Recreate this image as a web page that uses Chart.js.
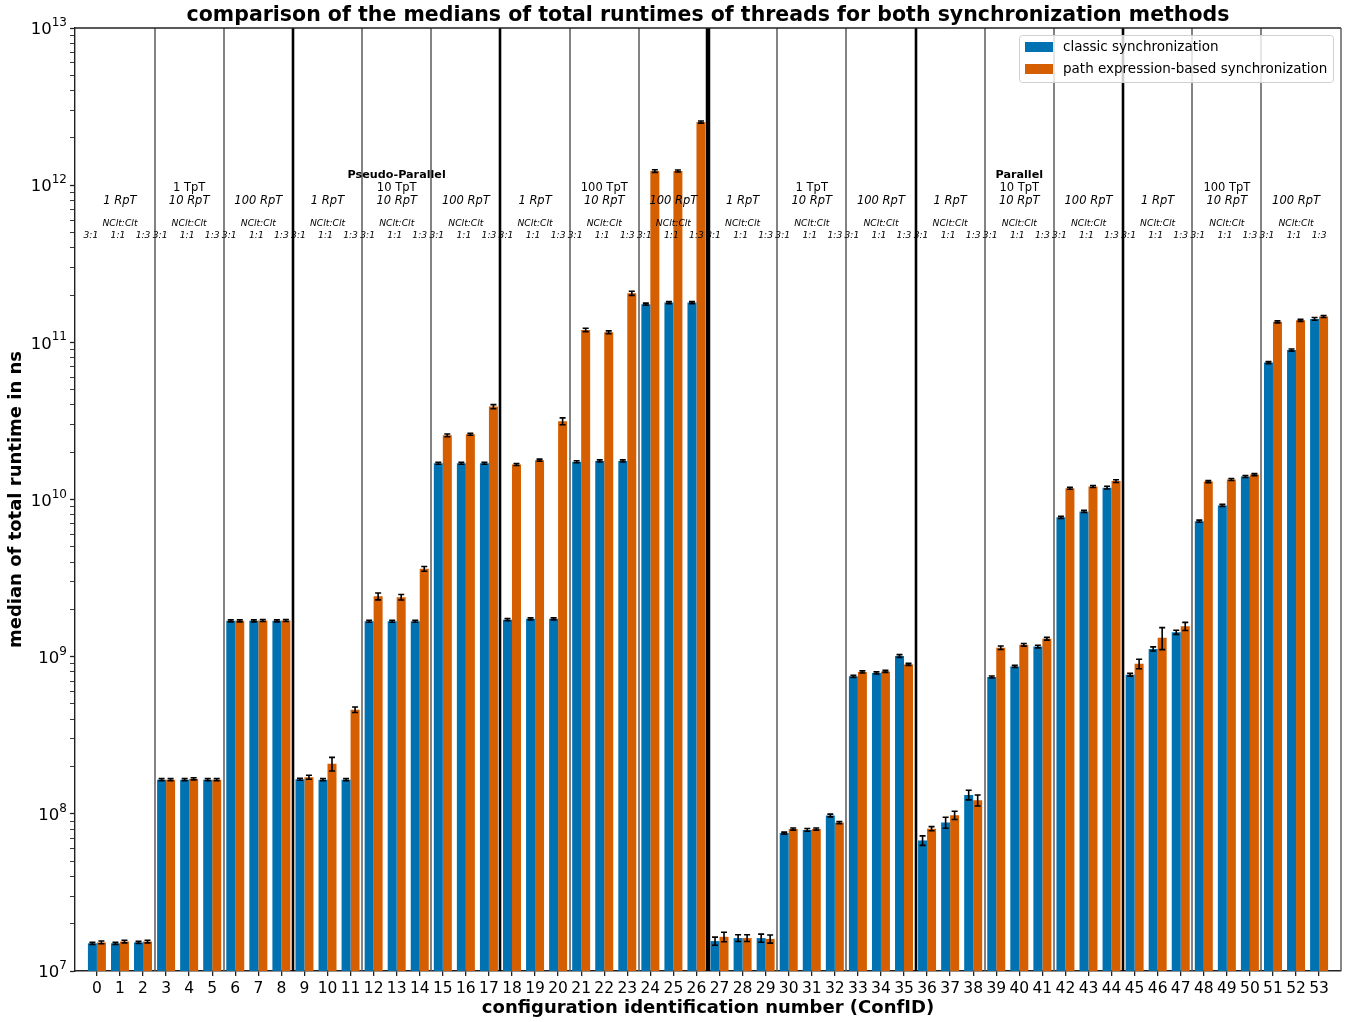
<!DOCTYPE html>
<html>
<head>
<meta charset="utf-8">
<script src="https://cdn.jsdelivr.net/npm/chart.js@4.4.0/dist/chart.umd.min.js"></script>
<style>
  html, body { margin: 0; padding: 0; background: #fff; }
  #wrap { width: 1351px; height: 1022px; }
</style>
</head>
<body>
<div id="wrap"><canvas id="chart"></canvas></div>
<script>
// configuration ids 0..53
const confIds = Array.from({ length: 54 }, (_, i) => i);

// medians (ns)
const classic = [
  1.50e7, 1.50e7, 1.52e7,  1.65e8, 1.65e8, 1.65e8,  1.69e9, 1.69e9, 1.69e9,
  1.66e8, 1.65e8, 1.65e8,  1.68e9, 1.68e9, 1.68e9,  1.70e10, 1.70e10, 1.70e10,
  1.72e9, 1.74e9, 1.74e9,  1.74e10, 1.76e10, 1.76e10,  1.75e11, 1.79e11, 1.79e11,
  1.55e7, 1.62e7, 1.62e7,  7.54e7, 7.90e7, 9.76e7,  7.50e8, 7.88e8, 1.01e9,
  6.77e7, 8.80e7, 1.32e8,  7.43e8, 8.67e8, 1.16e9,  7.70e9, 8.40e9, 1.19e10,
  7.67e8, 1.12e9, 1.43e9,  7.28e9, 9.17e9, 1.40e10,  7.43e10, 8.93e10, 1.41e11
];
const pathExpr = [
  1.52e7, 1.54e7, 1.54e7,  1.65e8, 1.67e8, 1.65e8,  1.69e9, 1.70e9, 1.70e9,
  1.71e8, 2.08e8, 4.60e8,  2.42e9, 2.39e9, 3.62e9,  2.56e10, 2.60e10, 3.90e10,
  1.67e10, 1.78e10, 3.15e10,  1.20e11, 1.16e11, 2.05e11,  1.23e12, 1.23e12, 2.52e12,
  1.65e7, 1.62e7, 1.60e7,  8.00e7, 8.00e7, 8.80e7,  8.00e8, 8.06e8, 8.93e8,
  8.05e7, 9.80e7, 1.22e8,  1.14e9, 1.19e9, 1.30e9,  1.18e10, 1.21e10, 1.31e10,
  9.00e8, 1.32e9, 1.56e9,  1.30e10, 1.34e10, 1.44e10,  1.35e11, 1.38e11, 1.46e11
];

// relative half-spread of the error bars
const classicErr = [
  .015, .015, .015, .015, .015, .015, .015, .015, .015,
  .015, .015, .015, .015, .015, .015, .015, .015, .015,
  .015, .015, .015, .015, .015, .015, .015, .015, .015,
  .06, .05, .06, .015, .02, .02, .015, .015, .02,
  .07, .08, .07, .015, .015, .02, .015, .015, .02,
  .02, .03, .03, .015, .015, .015, .015, .015, .02
];
const pathErr = [
  .02, .02, .02, .015, .015, .015, .015, .015, .015,
  .03, .10, .04, .05, .04, .035, .02, .015, .03,
  .015, .015, .05, .025, .02, .03, .02, .015, .015,
  .07, .05, .06, .015, .015, .015, .015, .015, .015,
  .03, .06, .08, .025, .02, .02, .015, .015, .02,
  .07, .16, .06, .015, .015, .015, .015, .015, .015
];

const ratioLabels = ['3:1', '1:1', '1:3'];
const rptLabels = ['1 RpT', '10 RpT', '100 RpT'];
const tptLabels = ['1 TpT', '10 TpT', '100 TpT'];
const modeLabels = { 1: 'Pseudo-Parallel', 4: 'Parallel' };   // by block of 9
const seriesNames = ['classic synchronization', 'path expression-based synchronization'];
const yTickValues = [1e7, 1e8, 1e9, 1e10, 1e11, 1e12, 1e13];

const BLUE = '#0072B2';
const ORANGE = '#D55E00';
const FONT = "'DejaVu Sans', sans-serif";

function isPow10(v) {
  const e = Math.log10(v);
  return Math.abs(e - Math.round(e)) < 1e-9;
}

const overlay = {
  id: 'overlay',
  beforeDatasetsDraw(chart) {
    const { ctx, chartArea: a, scales: { x } } = chart;
    ctx.save();
    // separators between groups of three
    for (let g = 1; g < confIds.length / 3; g++) {
      const px = Math.round(x.getPixelForValue(g * 3 - 0.5));
      let w = 1.5, col = '#5a5a5a';
      if (g % 3 === 0) { w = 2.6; col = '#000'; }
      if (g === 9) { w = 4.5; col = '#000'; }
      ctx.strokeStyle = col;
      ctx.lineWidth = w;
      ctx.beginPath();
      ctx.moveTo(px, a.top);
      ctx.lineTo(px, a.bottom);
      ctx.stroke();
    }
    ctx.restore();
  },
  afterDatasetsDraw(chart) {
    const { ctx, chartArea: a, scales: { x, y } } = chart;
    ctx.save();

    // error bars
    [[0, classicErr], [1, pathErr]].forEach(([d, errs]) => {
      const meta = chart.getDatasetMeta(d);
      const vals = chart.data.datasets[d].data;
      meta.data.forEach((bar, i) => {
        const v = vals[i].y;
        const lo = y.getPixelForValue(v * (1 - errs[i]));
        const hi = y.getPixelForValue(v * (1 + errs[i]));
        ctx.strokeStyle = '#000';
        ctx.lineWidth = 1.6;
        ctx.beginPath();
        ctx.moveTo(bar.x, lo); ctx.lineTo(bar.x, hi);
        ctx.moveTo(bar.x - 3, lo); ctx.lineTo(bar.x + 3, lo);
        ctx.moveTo(bar.x - 3, hi); ctx.lineTo(bar.x + 3, hi);
        ctx.stroke();
      });
    });

    // top and right frame
    ctx.strokeStyle = '#222';
    ctx.lineWidth = 1.4;
    ctx.beginPath();
    ctx.moveTo(a.left, a.top); ctx.lineTo(a.right, a.top);
    ctx.stroke();
    ctx.strokeStyle = '#555';
    ctx.beginPath();
    ctx.moveTo(a.right, a.top); ctx.lineTo(a.right, a.bottom);
    ctx.stroke();

    // group annotations
    ctx.fillStyle = '#000';
    ctx.textAlign = 'center';
    ctx.textBaseline = 'middle';
    for (let g = 0; g < confIds.length / 3; g++) {
      const cx = x.getPixelForValue(g * 3 + 1);
      const block = Math.floor(g / 3);
      ctx.font = 'italic 11.5px ' + FONT;
      ctx.fillText(rptLabels[g % 3], cx, 201);
      if (g % 3 === 1) {
        ctx.font = '11.5px ' + FONT;
        ctx.fillText(tptLabels[block % 3], cx, 188);
        if (modeLabels[block]) {
          ctx.font = 'bold 11.2px ' + FONT;
          ctx.fillText(modeLabels[block], cx, 175);
        }
      }
      ctx.font = 'italic 9.2px ' + FONT;
      ctx.fillText('NClt:Clt', cx, 224);
      const offs = [-6, -2, 0];
      ratioLabels.forEach((r, k) => {
        ctx.fillText(r, x.getPixelForValue(g * 3 + k) + offs[k], 236);
      });
    }

    // title
    ctx.font = 'bold 20.5px ' + FONT;
    ctx.fillText('comparison of the medians of total runtimes of threads for both synchronization methods',
      (a.left + a.right) / 2, 16);

    // y tick labels as 10 with raised exponent
    ctx.textAlign = 'right';
    yTickValues.forEach(p => {
      const py = y.getPixelForValue(p);
      const e = String(Math.round(Math.log10(p)));
      ctx.font = '12px ' + FONT;
      const ew = ctx.measureText(e).width;
      ctx.fillText(e, 67, py - 5);
      ctx.font = '16.5px ' + FONT;
      ctx.fillText('10', 67 - ew, py + 2);
    });

    // legend
    const lx = 1019, ly = 35, lw = 314, lh = 47;
    ctx.fillStyle = 'rgba(255,255,255,0.8)';
    ctx.strokeStyle = '#d0d0d0';
    ctx.lineWidth = 1;
    ctx.beginPath();
    ctx.roundRect(lx + 0.5, ly + 0.5, lw, lh, 3);
    ctx.fill();
    ctx.stroke();
    ctx.textAlign = 'left';
    [BLUE, ORANGE].forEach((c, k) => {
      const cy = ly + 12 + k * 22;
      ctx.fillStyle = c;
      ctx.fillRect(lx + 6, cy - 5, 28, 10);
      ctx.fillStyle = '#000';
      ctx.font = '13.5px ' + FONT;
      ctx.fillText(seriesNames[k], lx + 44, cy);
    });

    ctx.restore();
  }
};

Chart.defaults.font.family = FONT;
Chart.defaults.color = '#000';

new Chart(document.getElementById('chart'), {
  type: 'bar',
  data: {
    datasets: [
      {
        label: seriesNames[0],
        data: confIds.map((c, i) => ({ x: c, y: classic[i] })),
        backgroundColor: BLUE
      },
      {
        label: seriesNames[1],
        data: confIds.map((c, i) => ({ x: c, y: pathExpr[i] })),
        backgroundColor: ORANGE
      }
    ]
  },
  options: {
    responsive: true,
    maintainAspectRatio: false,
    animation: false,
    devicePixelRatio: 1,
    categoryPercentage: 0.78,
    barPercentage: 1.0,
    layout: { padding: { top: 28, right: 10, left: 0, bottom: 0 } },
    plugins: {
      legend: { display: false },
      title: { display: false },
      tooltip: { enabled: false }
    },
    scales: {
      x: {
        type: 'linear',
        min: -0.95,
        max: 53.95,
        offset: false,
        afterBuildTicks: s => { s.ticks = confIds.map(v => ({ value: v })); },
        afterFit: s => { s.height = 51; },
        ticks: {
          autoSkip: false,
          maxRotation: 0,
          padding: 4,
          font: { size: 15.5 },
          callback: v => String(v)
        },
        grid: { drawOnChartArea: false, offset: false, tickLength: 5, color: '#222', lineWidth: 1.3 },
        border: { color: '#222', width: 1.4 },
        title: {
          display: true,
          text: 'configuration identification number (ConfID)',
          font: { size: 18, weight: 'bold' },
          padding: { top: 0, bottom: 3 }
        }
      },
      y: {
        type: 'logarithmic',
        min: 1e7,
        max: 1e13,
        afterBuildTicks: s => {
          const t = [];
          yTickValues.forEach((p, k) => {
            t.push({ value: p });
            if (k < yTickValues.length - 1) {
              for (let m = 2; m <= 9; m++) t.push({ value: p * m });
            }
          });
          s.ticks = t;
        },
        afterFit: s => { s.width = 75; },
        ticks: {
          autoSkip: false,
          padding: 3,
          callback: () => ''
        },
        grid: {
          drawOnChartArea: false,
          tickLength: 5,
          color: '#222',
          tickWidth: c => (c.tick && isPow10(c.tick.value) ? 1.3 : 0.9)
        },
        border: { color: '#222', width: 1.4 },
        title: {
          display: true,
          text: 'median of total runtime in ns',
          font: { size: 18, weight: 'bold' },
          padding: { top: 6, bottom: 0 }
        }
      }
    }
  },
  plugins: [overlay]
});
</script>
</body>
</html>
